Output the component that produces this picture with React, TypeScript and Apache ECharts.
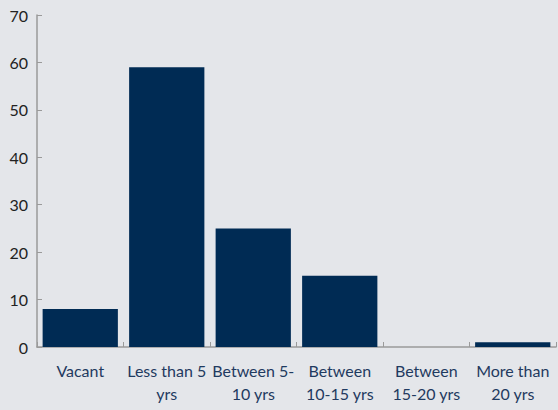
import React, { useEffect, useRef } from "react";
import * as echarts from "echarts";

const categories = [
  "Vacant",
  "Less than 5\nyrs",
  "Between 5-\n10 yrs",
  "Between\n10-15 yrs",
  "Between\n15-20 yrs",
  "More than\n20 yrs",
];
const values = [8, 59, 25, 15, 0, 1];
const yMin = 0;
const yMax = 70;
const yInterval = 10;

export default function App() {
  const ref = useRef<HTMLDivElement>(null);
  useEffect(() => {
    document.body.style.margin = "0";
    const chart = echarts.init(ref.current!, null, { renderer: "svg" });
    const font = "Lato, 'Open Sans', sans-serif";
    chart.setOption({
      animation: false,
      backgroundColor: "#e4e6ea",
      grid: { left: 37, right: 2, top: 15, bottom: 63, containLabel: false },
      xAxis: {
        type: "category",
        data: categories,
        axisLine: { lineStyle: { color: "#9a9a9a", width: 1.5 } },
        axisTick: { show: true, inside: true, length: 5, lineStyle: { color: "#9a9a9a" } },
        axisLabel: {
          color: "#1f3a60",
          fontSize: 16,
          fontFamily: font,
          lineHeight: 23,
          margin: 12,
          interval: 0,
        },
      },
      yAxis: {
        type: "value",
        min: yMin,
        max: yMax,
        interval: yInterval,
        splitLine: { show: false },
        axisLine: { show: true, lineStyle: { color: "#9a9a9a", width: 1.5 } },
        axisTick: { show: true, inside: true, length: 5, lineStyle: { color: "#9a9a9a" } },
        axisLabel: { color: "#222", fontSize: 16, fontFamily: font, margin: 9 },
      },
      series: [
        {
          type: "bar",
          data: values,
          barCategoryGap: "13%",
          itemStyle: { color: "#002b54" },
        },
      ],
    });
    return () => chart.dispose();
  }, []);
  return <div ref={ref} style={{ width: 558, height: 410 }} />;
}
